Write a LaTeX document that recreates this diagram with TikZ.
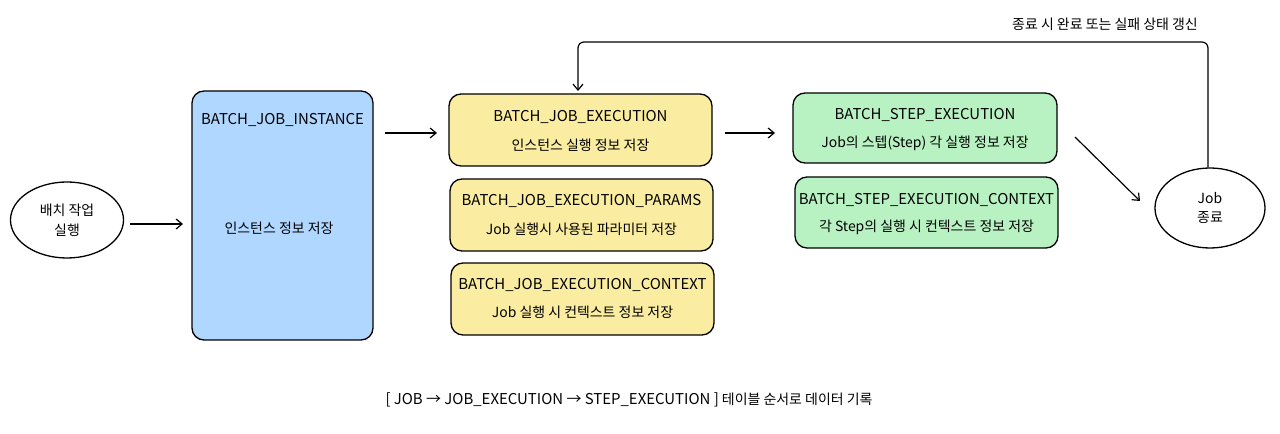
\documentclass[tikz,border=0pt]{standalone}
\usepackage{fontspec}
\setmainfont{Noto Sans CJK KR}
\usetikzlibrary{arrows.meta,shapes.geometric}
\definecolor{boxblue}{RGB}{176,215,255}
\definecolor{boxyellow}{RGB}{250,236,160}
\definecolor{boxgreen}{RGB}{184,242,194}
\tikzset{
  tbl/.style={draw=black, line width=1.3bp, rounded corners=12bp, inner sep=0pt},
  oval/.style={draw=black, line width=1.3bp, ellipse, inner sep=0pt},
  lbl/.style={font=\fontsize{14}{17}\selectfont, inner sep=0pt},
  ttl/.style={font=\fontsize{15}{18}\selectfont, inner sep=0pt},
  arr/.style={-{Straight Barb[length=6bp,width=10bp]}, line width=1.2bp},
}
\begin{document}
\begin{tikzpicture}[x=1bp,y=-1bp]
\useasboundingbox (0,0) rectangle (1280,434);
% start ellipse
\node[oval, minimum width=113bp, minimum height=76bp] (start) at (67,220) {};
\node[lbl, align=center] (startT) at (67,220) {배치 작업\\[3bp]실행};
% instance box
\node[tbl, fill=boxblue, minimum width=181bp, minimum height=249bp] (inst) at (282.5,215.5) {};
\node[ttl] (instT) at (282.5,120) {BATCH\_JOB\_INSTANCE};
\node[lbl] (instS) at (279,228) {인스턴스 정보 저장};
% job execution boxes
\node[tbl, fill=boxyellow, minimum width=263bp, minimum height=72bp] (je) at (580.5,130) {};
\node[ttl] (jeT) at (580.5,117) {BATCH\_JOB\_EXECUTION};
\node[lbl] (jeS) at (580.5,145) {인스턴스 실행 정보 저장};
\node[tbl, fill=boxyellow, minimum width=263bp, minimum height=72bp] (jp) at (581.5,215) {};
\node[ttl] (jpT) at (581.5,201) {BATCH\_JOB\_EXECUTION\_PARAMS};
\node[lbl] (jpS) at (581.5,229) {Job 실행시 사용된 파라미터 저장};
\node[tbl, fill=boxyellow, minimum width=263bp, minimum height=72bp] (jc) at (582.5,299) {};
\node[ttl] (jcT) at (582.5,285) {BATCH\_JOB\_EXECUTION\_CONTEXT};
\node[lbl] (jcS) at (582.5,312) {Job 실행 시 컨텍스트 정보 저장};
% step boxes
\node[tbl, fill=boxgreen, minimum width=264bp, minimum height=70bp] (se) at (925,128) {};
\node[ttl] (seT) at (925,115) {BATCH\_STEP\_EXECUTION};
\node[lbl] (seS) at (925,143) {Job의 스텝(Step) 각 실행 정보 저장};
\node[tbl, fill=boxgreen, minimum width=263bp, minimum height=71bp] (sc) at (926.5,212.5) {};
\node[ttl] (scT) at (926.5,200) {BATCH\_STEP\_EXECUTION\_CONTEXT};
\node[lbl] (scS) at (926.5,227) {각 Step의 실행 시 컨텍스트 정보 저장};
% end ellipse
\node[oval, minimum width=110bp, minimum height=80bp] (end) at (1210,208) {};
\node[lbl, align=center] (endT) at (1210,208) {Job\\[3bp]종료};
% arrows
\coordinate (a1s) at (130,224); \coordinate (a1e) at (183,224);
\draw[arr] (a1s) -- (a1e);
\coordinate (a2s) at (385,133); \coordinate (a2e) at (437,133);
\draw[arr] (a2s) -- (a2e);
\coordinate (a3s) at (725,133); \coordinate (a3e) at (775,133);
\draw[arr] (a3s) -- (a3e);
\coordinate (a4s) at (1075,137); \coordinate (a4e) at (1140,201);
\draw[arr] (a4s) -- (a4e);
% feedback
\coordinate (fbTop) at (1208,42);
\coordinate (fbEnd) at (578,91);
\draw[arr, rounded corners=6bp] (end.north -| fbTop) -- (fbTop) -- (fbTop -| fbEnd) -- (fbEnd);
\node[lbl] (fbL) at (1105,24) {종료 시 완료 또는 실패 상태 갱신};
% bottom caption
\node[lbl] (cap) at (629,400) {{\fontsize{15}{18}\selectfont [ JOB → JOB\_EXECUTION → STEP\_EXECUTION ]} 테이블 순서로 데이터 기록};
\end{tikzpicture}
\end{document}
